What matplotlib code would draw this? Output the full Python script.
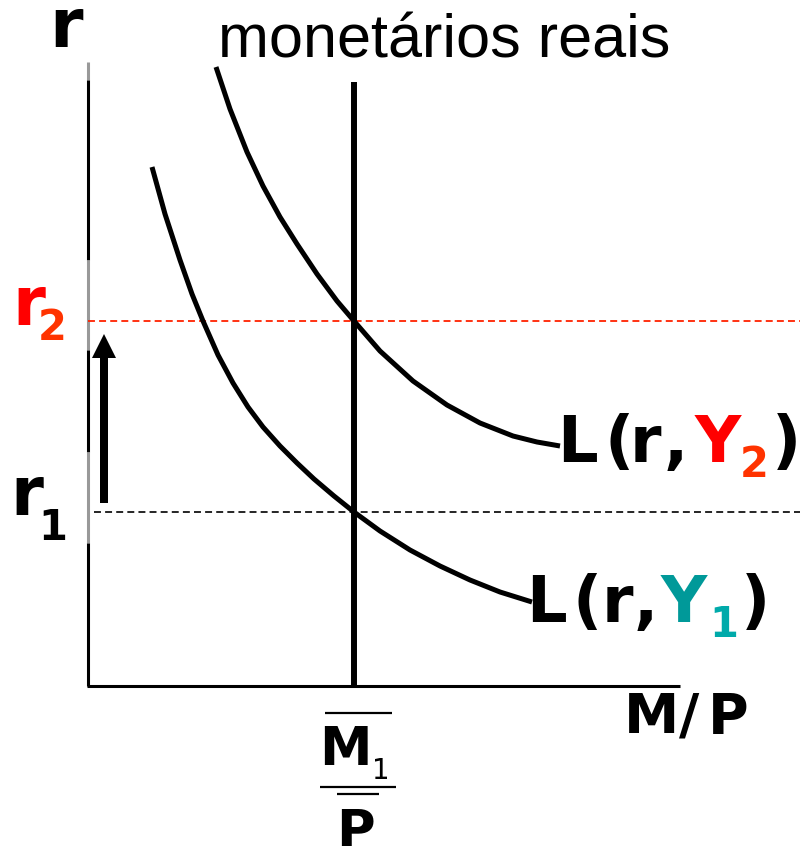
import matplotlib
matplotlib.use("Agg")
import matplotlib.pyplot as plt

plt.rcParams["lines.scale_dashes"] = False

# canvas units = pixels of the reference (y grows downwards)
W, H = 800, 846

# money demand curves
y1_x = [152, 165, 180, 192, 203, 218, 233, 248, 263, 280, 297, 314, 334, 354, 380, 410, 440, 470, 500, 532]
y1_y = [167, 214, 260, 294, 321, 355, 383, 407, 427, 446, 463, 479, 496, 512, 531, 550, 566, 580, 592, 602]
y2_x = [216, 230, 247, 263, 280, 297, 317, 337, 354, 380, 413, 447, 480, 513, 537, 560]
y2_y = [67, 109, 152, 186, 217, 244, 274, 301, 321, 351, 381, 405, 423, 436, 442, 446]

supply_x = 354           # fixed real money supply M1/P
supply_top = 82
origin = (88, 686)
x_axis_end = 680
r1, r2 = 512, 321        # interest-rate levels

# y axis: (start, end, colour) pieces as they appear
axis_pieces = [(62, 80, "#999999"), (80, 260, "black"), (260, 350, "#999999"),
               (350, 452, "black"), (452, 543, "#999999"), (543, 686, "black")]

RED = "#FF0000"
ORANGE = "#FF3300"
TEAL = "#009999"
TEAL2 = "#00AAAA"

fig = plt.figure(figsize=(W / 100, H / 100), dpi=100)
ax = fig.add_axes([0, 0, 1, 1])
ax.set_xlim(0, W)
ax.set_ylim(H, 0)
ax.axis("off")

# axes
for a, b, c in axis_pieces:
    ax.plot([origin[0], origin[0]], [a, b], color=c, lw=2.2, solid_capstyle="butt")
ax.plot([origin[0] - 1, x_axis_end], [origin[1], origin[1]], color="black", lw=2.2,
        solid_capstyle="butt")

# dashed reference levels
ax.plot([origin[0], W], [r2, r2], color="#FF2200", lw=1.3, dashes=(5, 3))
ax.plot([origin[0] + 6, W], [r1, r1], color="black", lw=1.2, dashes=(5, 3))

# supply and demand
ax.plot([supply_x, supply_x], [supply_top, origin[1]], color="black", lw=4.3,
        solid_capstyle="butt")
ax.plot(y1_x, y1_y, color="black", lw=3.6, solid_joinstyle="round", solid_capstyle="butt")
ax.plot(y2_x, y2_y, color="black", lw=3.6, solid_joinstyle="round", solid_capstyle="butt")

# arrow r1 -> r2
ax.arrow(104, 503, 0, 334 - 503, width=8, head_width=24, head_length=24,
         length_includes_head=True, color="black", lw=0)

B = dict(family="DejaVu Sans", weight="bold", va="baseline", ha="left")

ax.text(218, 57, "monetários reais", family="Liberation Sans", fontsize=44,
        va="baseline", ha="left")
ax.text(49, 47, "r", fontsize=49, **B)

ax.text(12, 325, "r", fontsize=48, color=RED, **B)
ax.text(38, 340, "2", fontsize=30, color=ORANGE, **B)
ax.text(10, 515, "r", fontsize=48, **B)
ax.text(38, 540, "1", fontsize=30, **B)

# L(r, Y2)
base2 = 462
for x, s, c in [(557, "L", "black"), (604, "(", "black"), (630, "r", "black"),
                (664, ",", "black"), (695, "Y", RED), (772, ")", "black")]:
    ax.text(x, base2, s, fontsize=46, color=c, **B)
ax.text(740, 477, "2", fontsize=30, color=ORANGE, **B)

# L(r, Y1)
base1 = 622
for x, s, c in [(526, "L", "black"), (573, "(", "black"), (602, "r", "black"),
                (634, ",", "black"), (661, "Y", TEAL), (741, ")", "black")]:
    ax.text(x, base1, s, fontsize=46, color=c, **B)
ax.text(709, 637, "1", fontsize=30, color=TEAL2, **B)

# M/P axis label
for x, s in [(624, "M"), (679, "/"), (708, "P")]:
    ax.text(x, 733, s, fontsize=40, **B)

# M1/P under the supply line
ax.plot([325, 392], [713, 713], color="black", lw=1.6, solid_capstyle="butt")
ax.text(319, 765, "M", fontsize=38, **B)
ax.text(372, 779, "1", fontsize=20, family="DejaVu Sans", va="baseline", ha="left")
ax.plot([320, 396], [787, 787], color="black", lw=1.6, solid_capstyle="butt")
ax.plot([337, 379], [794, 794], color="black", lw=1.6, solid_capstyle="butt")
ax.text(336, 848, "P", fontsize=38, **B)

fig.savefig("out.png", dpi=100)
